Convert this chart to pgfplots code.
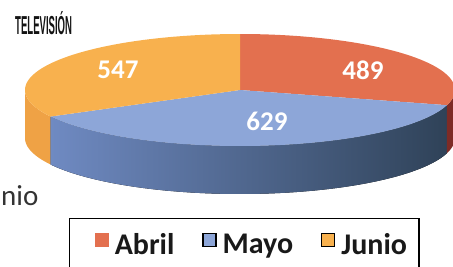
\documentclass[border=0pt]{standalone}
\usepackage{pgfplots}
\pgfplotsset{compat=1.18}
\usepgfplotslibrary{fillbetween}
\usepackage{graphicx}
\usepackage{fontspec}
\setmainfont{Carlito}
\newfontfamily\titlefont{Liberation Sans}
\definecolor{abriltop}{HTML}{E3704F}
\definecolor{abrilside}{HTML}{7E2B26}
\definecolor{mayotop}{HTML}{8DA6D8}
\definecolor{mayosideL}{HTML}{6F8AC2}
\definecolor{mayosideR}{HTML}{2F4258}
\definecolor{juniotop}{HTML}{F8B14E}
\definecolor{junioside}{HTML}{EFA245}
\begin{document}
\begin{tikzpicture}
% values
\def\vA{489}% Abril
\def\vB{629}% Mayo
\def\vC{547}% Junio
\pgfmathsetmacro\tot{\vA+\vB+\vC}
\pgfmathsetmacro\aEnd{90-360*(\vA/\tot)}
\pgfmathsetmacro\bEnd{\aEnd-360*(\vB/\tot)}
\pgfmathsetmacro\cEnd{\bEnd+360}
\def\cx{240}\def\cy{176}\def\ra{215}\def\rb{56}\def\dep{48}
\pgfmathsetmacro\cyl{\cy-\dep}
\begin{axis}[at={(0,0)}, anchor=south west, width=453pt, height=266pt, scale only axis,
  xmin=0, xmax=453, ymin=0, ymax=266, hide axis, clip=true,
  legend image code/.code={\fill[#1] (0pt,-2pt) rectangle (13pt,11pt);},
  legend columns=3,
  legend style={at={(axis cs:69,48)}, anchor=north west, draw=black, line width=1.2pt,
    font=\bfseries\fontsize{30}{32}\selectfont, text=black!90,
    inner xsep=10pt, inner ysep=13pt,
    /tikz/every odd column/.append style={column sep=4pt},
    /tikz/every even column/.append style={column sep=26pt}},
]
% sides (front half)
\addplot[draw=none, name path=jU, domain=-180:\bEnd, samples=30, variable=\t, forget plot] ({\cx+\ra*cos(t)}, {\cy+\rb*sin(t)});
\addplot[draw=none, name path=jL, domain=-180:\bEnd, samples=30, variable=\t, forget plot] ({\cx+\ra*cos(t)}, {\cyl+\rb*sin(t)});
\addplot[fill=junioside, draw=none, forget plot] fill between[of=jU and jL];
\addplot[draw=none, name path=mU, domain=\bEnd:\aEnd, samples=80, variable=\t, forget plot] ({\cx+\ra*cos(t)}, {\cy+\rb*sin(t)});
\addplot[draw=none, name path=mL, domain=\bEnd:\aEnd, samples=80, variable=\t, forget plot] ({\cx+\ra*cos(t)}, {\cyl+\rb*sin(t)});
\addplot[left color=mayosideL, right color=mayosideR, draw=none, forget plot] fill between[of=mU and mL];
\addplot[draw=none, name path=aU, domain=\aEnd:0, samples=20, variable=\t, forget plot] ({\cx+\ra*cos(t)}, {\cy+\rb*sin(t)});
\addplot[draw=none, name path=aL, domain=\aEnd:0, samples=20, variable=\t, forget plot] ({\cx+\ra*cos(t)}, {\cyl+\rb*sin(t)});
\addplot[fill=abrilside, draw=none, forget plot] fill between[of=aU and aL];
% top face
\addplot[fill=abriltop, draw=none, domain=\aEnd:90, samples=80, variable=\t, forget plot] ({\cx+\ra*cos(t)}, {\cy+\rb*sin(t)}) -- (axis cs:\cx,\cy) -- cycle;
\addplot[fill=mayotop, draw=none, domain=\bEnd:\aEnd, samples=80, variable=\t, forget plot] ({\cx+\ra*cos(t)}, {\cy+\rb*sin(t)}) -- (axis cs:\cx,\cy) -- cycle;
\addplot[fill=juniotop, draw=none, domain=90:\cEnd, samples=80, variable=\t, forget plot] ({\cx+\ra*cos(t)}, {\cy+\rb*sin(t)}) -- (axis cs:\cx,\cy) -- cycle;
% labels
\node[text=white, font=\bfseries\fontsize{27}{27}\selectfont] at (axis cs:118,196) {\vC};
\node[text=white, font=\bfseries\fontsize{27}{27}\selectfont] at (axis cs:363,196) {\vA};
\node[text=white, font=\bfseries\fontsize{27}{27}\selectfont] at (axis cs:267,145) {\vB};
\node[anchor=west, inner sep=0, text=black!92] at (axis cs:15,243) {\scalebox{0.368}[1]{\titlefont\bfseries\fontsize{26}{26}\selectfont TELEVISIÓN}};
\node[anchor=base west, inner sep=0, text=black!80] at (axis cs:1,61) {\fontsize{29}{30}\selectfont nio};
% legend
\addlegendimage{legend image code/.code={\path (0pt,0pt); \fill[abriltop] (15pt,-2pt) rectangle (28pt,11pt);}}\addlegendentry{Abril}
\addlegendimage{fill=mayotop}\addlegendentry{Mayo}
\addlegendimage{fill=juniotop}\addlegendentry{Junio}
\end{axis}
\pgfresetboundingbox
\path[use as bounding box] (0,0) rectangle (453pt,266pt);
\end{tikzpicture}
\end{document}
